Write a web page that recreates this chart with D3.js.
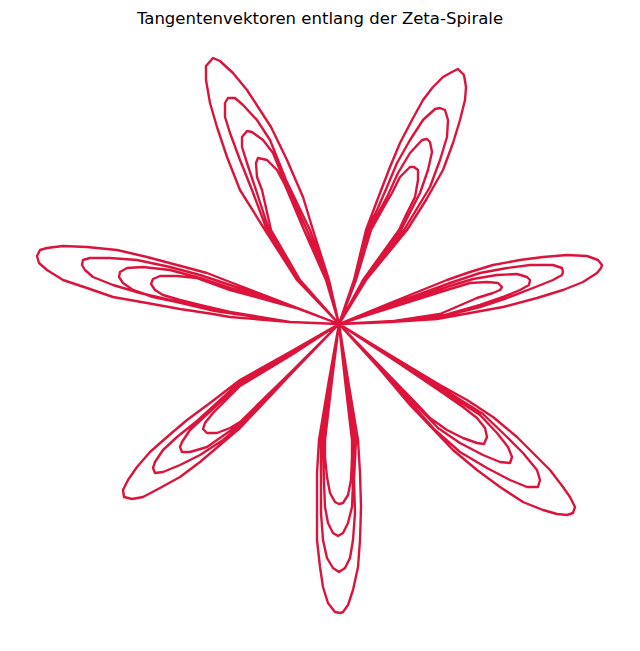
<!DOCTYPE html>
<html>
<head>
<meta charset="utf-8">
<script src="https://cdn.jsdelivr.net/npm/d3@7"></script>
<style>
  html, body { margin: 0; padding: 0; background: #fff; }
  svg { display: block; }
</style>
</head>
<body>
<svg id="chart" width="640" height="651"></svg>
<script>
const TITLE = "Tangentenvektoren entlang der Zeta-Spirale";

// every loop starts and ends in the origin
const ORIGIN = [0, 0];

// petals; each petal holds 4 nested loops (inner -> outer)
const petalNW = [
  [[-0.39,0.44],[-0.68,0.94],[-0.77,1.34],[-0.82,1.47],[-0.83,1.61],[-0.81,1.66],[-0.72,1.64],[-0.62,1.54],[-0.54,1.39],[-0.35,0.94],[-0.13,0.44]],
  [[-0.40,0.44],[-0.70,0.94],[-0.83,1.34],[-0.92,1.61],[-0.97,1.77],[-0.97,1.87],[-0.92,1.93],[-0.87,1.92],[-0.76,1.84],[-0.66,1.71],[-0.55,1.44],[-0.32,0.94],[-0.12,0.44]],
  [[-0.41,0.44],[-0.72,0.94],[-0.87,1.34],[-0.99,1.64],[-1.09,1.91],[-1.14,2.07],[-1.14,2.21],[-1.11,2.26],[-1.04,2.26],[-0.96,2.19],[-0.82,2.04],[-0.69,1.84],[-0.53,1.44],[-0.29,0.94],[-0.11,0.44]],
  [[-0.42,0.44],[-0.74,0.94],[-0.99,1.34],[-1.12,1.67],[-1.22,1.97],[-1.29,2.21],[-1.33,2.44],[-1.33,2.58],[-1.26,2.66],[-1.19,2.63],[-1.06,2.51],[-0.92,2.34],[-0.79,2.14],[-0.68,1.97],[-0.52,1.64],[-0.36,1.27],[-0.26,0.94],[-0.10,0.44]]
];

const petalNE = [
  [[0.17,0.44],[0.32,0.94],[0.46,1.19],[0.53,1.31],[0.61,1.47],[0.71,1.57],[0.75,1.57],[0.79,1.54],[0.79,1.44],[0.76,1.27],[0.67,1.09],[0.60,0.94],[0.24,0.44]],
  [[0.16,0.44],[0.30,0.94],[0.49,1.29],[0.59,1.51],[0.71,1.71],[0.83,1.84],[0.88,1.85],[0.91,1.82],[0.93,1.72],[0.89,1.54],[0.81,1.31],[0.62,0.94],[0.25,0.44]],
  [[0.16,0.44],[0.28,0.94],[0.38,1.14],[0.48,1.37],[0.58,1.61],[0.71,1.84],[0.84,2.04],[0.96,2.15],[1.01,2.16],[1.06,2.14],[1.09,2.04],[1.08,1.87],[1.01,1.64],[0.91,1.37],[0.65,0.94],[0.26,0.44]],
  [[0.15,0.44],[0.27,0.94],[0.41,1.31],[0.51,1.57],[0.61,1.81],[0.73,2.04],[0.84,2.24],[0.94,2.37],[1.04,2.47],[1.13,2.52],[1.19,2.55],[1.25,2.49],[1.27,2.37],[1.26,2.24],[1.21,2.04],[1.14,1.81],[1.04,1.54],[0.87,1.24],[0.68,0.94],[0.27,0.44]]
];

const petalE = [
  [[0.57,0.18],[1.11,0.35],[1.31,0.41],[1.48,0.42],[1.59,0.41],[1.63,0.37],[1.61,0.34],[1.54,0.31],[1.38,0.26],[1.01,0.10],[0.55,0.03]],
  [[0.55,0.19],[1.11,0.38],[1.34,0.45],[1.58,0.49],[1.78,0.50],[1.88,0.47],[1.91,0.44],[1.90,0.39],[1.81,0.34],[1.64,0.27],[1.41,0.19],[1.06,0.09],[0.53,0.02]],
  [[0.53,0.20],[1.11,0.41],[1.41,0.51],[1.68,0.56],[1.91,0.59],[2.14,0.59],[2.23,0.56],[2.24,0.52],[2.23,0.49],[2.14,0.44],[1.94,0.36],[1.68,0.26],[1.41,0.17],[1.01,0.07],[0.51,0.02]],
  [[0.51,0.21],[1.08,0.44],[1.31,0.52],[1.54,0.59],[1.81,0.64],[2.04,0.67],[2.28,0.69],[2.48,0.68],[2.59,0.64],[2.63,0.59],[2.62,0.56],[2.58,0.51],[2.44,0.42],[2.24,0.34],[1.98,0.26],[1.64,0.17],[1.31,0.11],[0.98,0.05],[0.51,0.02]]
];

const petalSE = [
  [[0.61,-0.40],[1.01,-0.67],[1.24,-0.83],[1.38,-0.94],[1.46,-1.04],[1.48,-1.13],[1.45,-1.20],[1.38,-1.19],[1.24,-1.14],[1.08,-1.06],[0.91,-0.94],[0.76,-0.78],[0.39,-0.40]],
  [[0.61,-0.39],[1.01,-0.65],[1.41,-0.91],[1.58,-1.09],[1.69,-1.23],[1.73,-1.33],[1.71,-1.39],[1.61,-1.38],[1.44,-1.31],[1.21,-1.19],[0.99,-1.04],[0.75,-0.79],[0.39,-0.41]],
  [[0.61,-0.38],[1.01,-0.63],[1.44,-0.90],[1.68,-1.13],[1.84,-1.29],[1.98,-1.46],[2.01,-1.56],[1.99,-1.63],[1.88,-1.63],[1.71,-1.56],[1.48,-1.44],[1.21,-1.28],[0.96,-1.06],[0.73,-0.80],[0.39,-0.42]],
  [[0.61,-0.37],[1.01,-0.61],[1.28,-0.76],[1.54,-0.93],[1.78,-1.13],[1.94,-1.29],[2.11,-1.46],[2.24,-1.63],[2.31,-1.73],[2.36,-1.83],[2.34,-1.89],[2.28,-1.91],[2.18,-1.90],[2.04,-1.86],[1.84,-1.78],[1.61,-1.63],[1.38,-1.46],[1.14,-1.26],[0.93,-1.04],[0.71,-0.81],[0.39,-0.43]]
];

const petalS = [
  [[-0.07,-0.56],[-0.14,-1.16],[-0.14,-1.33],[-0.12,-1.53],[-0.09,-1.69],[-0.04,-1.78],[0.00,-1.80],[0.04,-1.79],[0.09,-1.71],[0.12,-1.56],[0.13,-1.33],[0.13,-1.16],[0.06,-0.56]],
  [[-0.08,-0.56],[-0.16,-1.16],[-0.15,-1.59],[-0.14,-1.83],[-0.11,-1.99],[-0.06,-2.09],[-0.01,-2.12],[0.04,-2.09],[0.09,-1.99],[0.13,-1.83],[0.14,-1.59],[0.15,-1.16],[0.07,-0.56]],
  [[-0.09,-0.56],[-0.18,-1.16],[-0.18,-1.56],[-0.18,-1.89],[-0.16,-2.16],[-0.12,-2.34],[-0.06,-2.44],[0.00,-2.48],[0.06,-2.44],[0.11,-2.34],[0.14,-2.16],[0.16,-1.89],[0.15,-1.56],[0.17,-1.16],[0.08,-0.56]],
  [[-0.10,-0.56],[-0.20,-1.16],[-0.22,-1.49],[-0.22,-1.83],[-0.22,-2.16],[-0.19,-2.43],[-0.16,-2.63],[-0.11,-2.79],[-0.04,-2.88],[0.01,-2.89],[0.04,-2.88],[0.09,-2.81],[0.14,-2.66],[0.19,-2.43],[0.21,-2.16],[0.22,-1.83],[0.21,-1.49],[0.19,-1.16],[0.09,-0.56]]
];

const petalSW = [
  [[-0.46,-0.30],[-0.99,-0.62],[-1.26,-0.89],[-1.34,-0.99],[-1.36,-1.05],[-1.32,-1.09],[-1.22,-1.09],[-1.09,-1.04],[-0.99,-0.98],[-0.49,-0.49]],
  [[-0.47,-0.29],[-0.99,-0.60],[-1.36,-0.94],[-1.49,-1.06],[-1.57,-1.18],[-1.59,-1.23],[-1.57,-1.28],[-1.49,-1.28],[-1.32,-1.23],[-0.99,-1.00],[-0.49,-0.50]],
  [[-0.48,-0.29],[-0.99,-0.58],[-1.42,-0.97],[-1.62,-1.13],[-1.76,-1.26],[-1.84,-1.38],[-1.86,-1.44],[-1.84,-1.49],[-1.76,-1.48],[-1.59,-1.41],[-1.39,-1.31],[-1.16,-1.16],[-0.99,-1.02],[-0.49,-0.50]],
  [[-0.49,-0.28],[-0.99,-0.56],[-1.29,-0.79],[-1.52,-0.96],[-1.72,-1.13],[-1.89,-1.28],[-2.02,-1.43],[-2.11,-1.56],[-2.16,-1.66],[-2.15,-1.73],[-2.07,-1.75],[-1.96,-1.73],[-1.79,-1.64],[-1.59,-1.53],[-1.39,-1.38],[-1.19,-1.21],[-0.99,-1.04],[-0.49,-0.51]]
];

const petalW = [
  [[-0.43,0.16],[-1.09,0.34],[-1.42,0.46],[-1.62,0.48],[-1.79,0.48],[-1.86,0.45],[-1.88,0.40],[-1.84,0.34],[-1.76,0.29],[-1.59,0.24],[-1.39,0.19],[-1.09,0.12],[-0.49,0.02]],
  [[-0.45,0.17],[-1.09,0.36],[-1.39,0.46],[-1.69,0.54],[-1.96,0.57],[-2.12,0.56],[-2.19,0.52],[-2.20,0.47],[-2.16,0.41],[-2.06,0.34],[-1.86,0.27],[-1.62,0.22],[-1.24,0.13],[-0.49,0.02]],
  [[-0.47,0.18],[-1.09,0.39],[-1.39,0.49],[-1.69,0.57],[-2.02,0.64],[-2.29,0.66],[-2.49,0.66],[-2.56,0.64],[-2.57,0.59],[-2.54,0.54],[-2.46,0.47],[-2.26,0.39],[-1.99,0.31],[-1.69,0.24],[-1.26,0.14],[-0.49,0.02]],
  [[-0.49,0.19],[-1.09,0.42],[-1.32,0.51],[-1.62,0.59],[-1.92,0.67],[-2.22,0.74],[-2.52,0.77],[-2.76,0.78],[-2.92,0.76],[-2.99,0.74],[-3.02,0.68],[-3.00,0.61],[-2.92,0.54],[-2.76,0.44],[-2.52,0.36],[-2.26,0.27],[-1.92,0.21],[-1.59,0.15],[-1.26,0.10],[-1.09,0.07],[-0.49,0.02]]
];

const petals = [petalNW, petalW, petalSW, petalS, petalSE, petalE, petalNE];

const svg = d3.select("#chart");
const width = 640;
const height = 651;

// equal aspect: 100 px per unit
const x = d3.scaleLinear().domain([-3.0, 2.7]).range([39, 609]);
const y = d3.scaleLinear().domain([-2.95, 2.70]).range([619, 54]);

const line = d3.line()
    .x(d => x(d[0]))
    .y(d => y(d[1]));

// one continuous trace: origin -> loop -> origin -> next loop ...
const trace = [ORIGIN];
for (const petal of petals) {
  for (const loop of petal) {
    trace.push(...loop, ORIGIN);
  }
}

svg.append("path")
    .datum(trace)
    .attr("fill", "none")
    .attr("stroke", "#dc143c")
    .attr("stroke-width", 2.4)
    .attr("stroke-linejoin", "round")
    .attr("d", line);

svg.append("text")
    .attr("x", width / 2)
    .attr("y", 24)
    .attr("text-anchor", "middle")
    .attr("font-family", "DejaVu Sans, sans-serif")
    .attr("font-size", 16.5)
    .attr("fill", "#000")
    .text(TITLE);
</script>
</body>
</html>
